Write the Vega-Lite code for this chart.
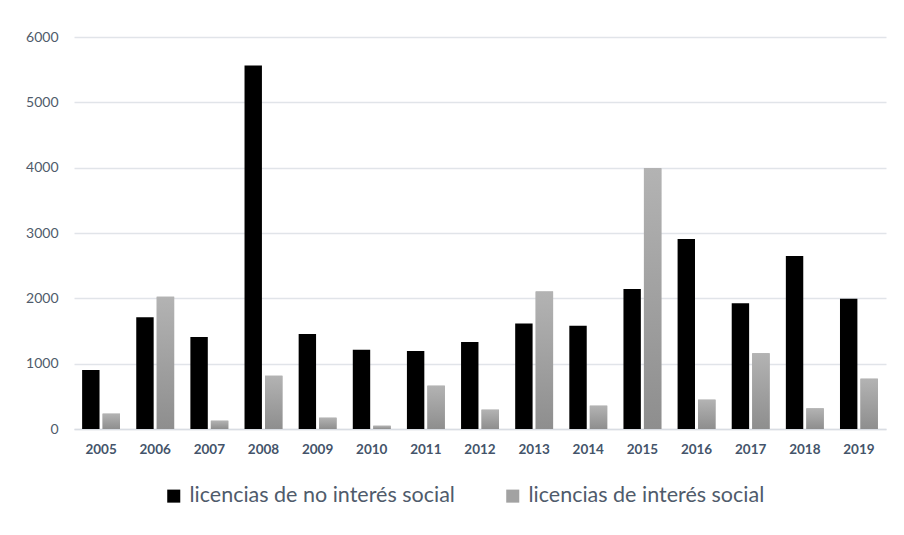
{
  "$schema": "https://vega.github.io/schema/vega-lite/v6.json",
  "width": 812,
  "height": 392,
  "autosize": {"type": "none"},
  "padding": {"left": 74, "top": 37, "right": 18, "bottom": 106},
  "background": "white",
  "config": {
    "view": {"stroke": null},
    "font": "Lato"
  },
  "data": {
    "values": [
      {"year": "2005", "serie": "licencias de no interés social", "valor": 903},
      {"year": "2005", "serie": "licencias de interés social", "valor": 235},
      {"year": "2006", "serie": "licencias de no interés social", "valor": 1710},
      {"year": "2006", "serie": "licencias de interés social", "valor": 2026},
      {"year": "2007", "serie": "licencias de no interés social", "valor": 1409},
      {"year": "2007", "serie": "licencias de interés social", "valor": 127},
      {"year": "2008", "serie": "licencias de no interés social", "valor": 5563},
      {"year": "2008", "serie": "licencias de interés social", "valor": 816},
      {"year": "2009", "serie": "licencias de no interés social", "valor": 1455},
      {"year": "2009", "serie": "licencias de interés social", "valor": 173},
      {"year": "2010", "serie": "licencias de no interés social", "valor": 1214},
      {"year": "2010", "serie": "licencias de interés social", "valor": 50},
      {"year": "2011", "serie": "licencias de no interés social", "valor": 1194},
      {"year": "2011", "serie": "licencias de interés social", "valor": 663},
      {"year": "2012", "serie": "licencias de no interés social", "valor": 1332},
      {"year": "2012", "serie": "licencias de interés social", "valor": 296},
      {"year": "2013", "serie": "licencias de no interés social", "valor": 1613},
      {"year": "2013", "serie": "licencias de interés social", "valor": 2103},
      {"year": "2014", "serie": "licencias de no interés social", "valor": 1582},
      {"year": "2014", "serie": "licencias de interés social", "valor": 357},
      {"year": "2015", "serie": "licencias de no interés social", "valor": 2144},
      {"year": "2015", "serie": "licencias de interés social", "valor": 3991},
      {"year": "2016", "serie": "licencias de no interés social", "valor": 2910},
      {"year": "2016", "serie": "licencias de interés social", "valor": 449},
      {"year": "2017", "serie": "licencias de no interés social", "valor": 1924},
      {"year": "2017", "serie": "licencias de interés social", "valor": 1158},
      {"year": "2018", "serie": "licencias de no interés social", "valor": 2649},
      {"year": "2018", "serie": "licencias de interés social", "valor": 316},
      {"year": "2019", "serie": "licencias de no interés social", "valor": 1995},
      {"year": "2019", "serie": "licencias de interés social", "valor": 770}
    ]
  },
  "encoding": {
    "x": {
      "field": "year",
      "type": "nominal",
      "scale": {"paddingInner": 0.3, "paddingOuter": 0.15},
      "axis": {
        "title": null,
        "labelAngle": 0,
        "labelFontWeight": "bold",
        "labelFontSize": 13.5,
        "labelColor": "#44546a",
        "labelPadding": 13,
        "ticks": false,
        "domainColor": "#d9dde3",
        "domainWidth": 1.5
      }
    },
    "xOffset": {
      "field": "serie",
      "type": "nominal",
      "sort": ["licencias de no interés social", "licencias de interés social"],
      "scale": {"domain": ["licencias de no interés social", "licencias de interés social"], "paddingInner": 0.15}
    },
    "y": {
      "field": "valor",
      "type": "quantitative",
      "scale": {"domain": [0, 6000], "nice": false},
      "axis": {
        "title": null,
        "values": [0, 1000, 2000, 3000, 4000, 5000, 6000],
        "format": "d",
        "labelFontSize": 14,
        "labelColor": "#4f5b6b",
        "labelPadding": 16,
        "ticks": false,
        "domain": false,
        "gridColor": "#e1e4e9",
        "gridWidth": 1.3
      }
    }
  },
  "layer": [
    {
      "mark": {"type": "bar"},
      "encoding": {
        "color": {
          "field": "serie",
          "type": "nominal",
          "sort": ["licencias de no interés social", "licencias de interés social"],
          "scale": {
            "domain": ["licencias de no interés social", "licencias de interés social"],
            "range": ["#000000", "#a2a2a2"]
          },
          "legend": {
            "title": null,
            "orient": "none",
            "direction": "horizontal",
            "legendX": 89,
            "legendY": 448,
            "symbolType": "square",
            "symbolSize": 170,
            "symbolStrokeWidth": 0,
            "symbolOpacity": 1,
            "labelFontSize": 21.5,
            "labelLimit": 0,
            "labelColor": "#4f5b6b",
            "labelOffset": 5,
            "columnPadding": 47
          }
        }
      }
    },
    {
      "transform": [{"filter": "datum.serie === 'licencias de interés social'"}],
      "mark": {
        "type": "bar",
        "color": {"gradient": "linear", "x1": 0, "y1": 0, "x2": 0, "y2": 1,
          "stops": [{"offset": 0, "color": "#b3b3b3"}, {"offset": 1, "color": "#8e8e8e"}]}
      }
    }
  ]
}
